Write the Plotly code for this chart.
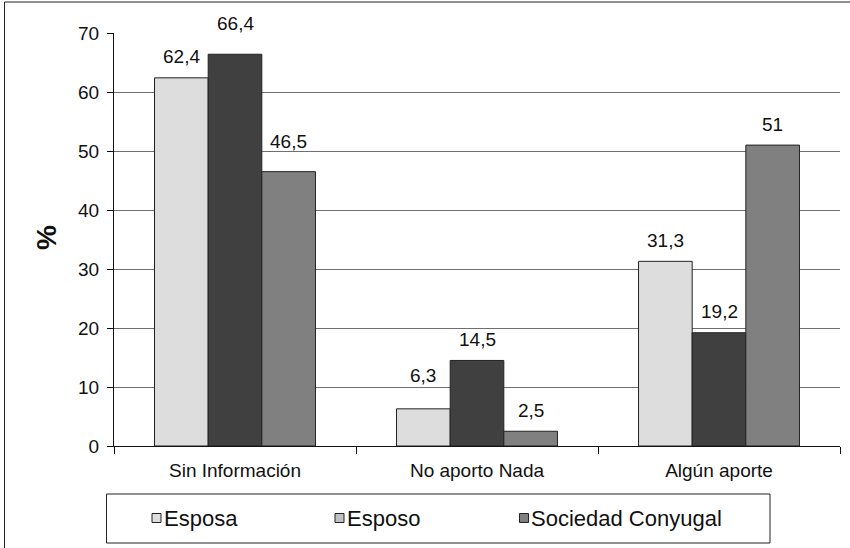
import plotly.graph_objects as go

# --- data ---------------------------------------------------------------
categories = ["Sin Información", "No aporto Nada", "Algún aporte"]
series_names = ["Esposa", "Esposo", "Sociedad Conyugal"]
esposa = [62.4, 6.3, 31.3]
esposo = [66.4, 14.5, 19.2]
sociedad = [46.5, 2.5, 51]
y_ticks = [0, 10, 20, 30, 40, 50, 60, 70]

# --- styling --------------------------------------------------------------
bar_colors = ["#dddddd", "#404040", "#808080"]
legend_colors = ["#dddddd", "#c0c0c0", "#808080"]
FONT = "Liberation Sans, Arial, sans-serif"
W, H = 850, 548
L, R, T, B = 114, 10, 33, 102
PW, PH = W - L - R, H - T - B
BARGAP = 0.335

def px(x):
    return (x - L) / PW

def py(y):
    return (T + PH - y) / PH

# extra lift (px) for a few value labels that sit higher above their bars
label_lift = {(1, 0): 10, (2, 0): 9, (0, 1): 12}

fig = go.Figure()
values = [esposa, esposo, sociedad]
for j, (name, vals) in enumerate(zip(series_names, values)):
    fig.add_trace(go.Bar(
        x=categories, y=vals, name=name, showlegend=False,
        marker=dict(color=bar_colors[j], line=dict(color="#222222", width=1)),
        hoverinfo="x+y+name",
    ))

# value labels
bw = (1 - BARGAP) / 3
annotations = []
for j, vals in enumerate(values):
    for i, v in enumerate(vals):
        annotations.append(dict(
            x=i + (j - 1) * bw, y=v, xref="x", yref="y",
            text=f"{v:g}".replace(".", ","), showarrow=False,
            yanchor="middle", xanchor="center",
            yshift=21 + label_lift.get((j, i), 0),
            font=dict(family=FONT, size=19, color="#111111"),
        ))

# y-axis title
annotations.append(dict(
    x=px(47), y=py(238), xref="paper", yref="paper", text="<b>%</b>",
    showarrow=False, textangle=-90, xanchor="center", yanchor="middle",
    font=dict(family=FONT, size=28, color="#111111"),
))

shapes = [
    # outer frame
    dict(type="rect", xref="paper", yref="paper",
         x0=px(4.5), x1=px(853), y0=py(2), y1=py(553),
         line=dict(color="#222222", width=1), fillcolor="rgba(0,0,0,0)"),
    # legend box
    dict(type="rect", xref="paper", yref="paper",
         x0=px(106.5), x1=px(770), y0=py(494), y1=py(543),
         line=dict(color="#222222", width=1), fillcolor="white"),
]

# legend entries
legend_centers = [156.5, 339.5, 524]
legend_y = 518
for j, name in enumerate(series_names):
    cx = legend_centers[j]
    shapes.append(dict(
        type="rect", xref="paper", yref="paper",
        x0=px(cx - 4.5), x1=px(cx + 4.5), y0=py(legend_y - 4.5), y1=py(legend_y + 4.5),
        line=dict(color="#222222", width=1), fillcolor=legend_colors[j],
    ))
    annotations.append(dict(
        x=px(cx + 5), y=py(legend_y), xref="paper", yref="paper", text=name,
        showarrow=False, xanchor="left", yanchor="middle",
        font=dict(family=FONT, size=22, color="#111111"),
    ))

fig.update_layout(
    width=W, height=H,
    margin=dict(l=L, r=R, t=T, b=B),
    paper_bgcolor="white", plot_bgcolor="white",
    barmode="group", bargap=BARGAP, bargroupgap=0,
    showlegend=False,
    font=dict(family=FONT, size=19, color="#111111"),
    annotations=annotations, shapes=shapes,
)
fig.update_xaxes(
    type="category", showline=True, linecolor="#111111", linewidth=1,
    ticks="outside", tickson="boundaries", ticklen=7, tickcolor="#111111",
    showgrid=False, ticklabelstandoff=7,
    tickfont=dict(family=FONT, size=19, color="#111111"),
)
fig.update_yaxes(
    range=[0, 70], tickvals=y_ticks, showline=True, linecolor="#111111",
    linewidth=1, ticks="outside", ticklen=6, tickcolor="#111111",
    showgrid=True, gridcolor="#6f6f6f", gridwidth=1, zeroline=False,
    ticklabelstandoff=4,
    tickfont=dict(family=FONT, size=19, color="#111111"),
)

fig.write_html("out.html")
